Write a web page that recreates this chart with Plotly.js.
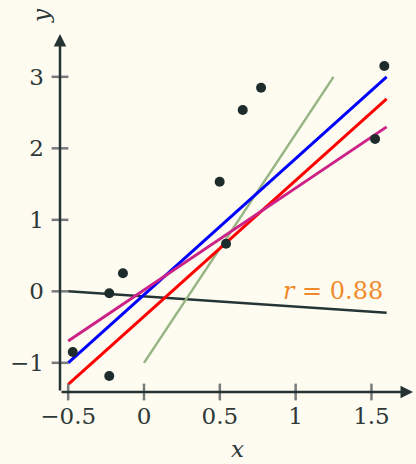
<!DOCTYPE html>
<html>
<head>
<meta charset="utf-8">
<script src="https://cdn.plot.ly/plotly-3.0.1.min.js"></script>
<style>html,body{margin:0;padding:0;background:#fefcf0;}#chart{width:416px;height:464px;}</style>
</head>
<body>
<div id="chart"></div>
<script>
// Data
const pointsX = [-0.47, -0.229, -0.229, -0.139, 0.499, 0.541, 0.651, 0.772, 1.524, 1.585];
const pointsY = [-0.849, -0.028, -1.184, 0.252, 1.533, 0.666, 2.536, 2.848, 2.130, 3.151];

const blueX = [-0.5, 1.6],  blueY = [-1.0, 3.0];
const redX = [-0.5, 1.6],   redY = [-1.30, 2.69];
const magentaX = [-0.5, 1.6], magentaY = [-0.695, 2.30];
const greenX = [0, 1.25],   greenY = [-1.0, 3.0];
const darkX = [-0.5, 1.6],  darkY = [0.0, -0.30];

const xTicks = [-0.5, 0, 0.5, 1, 1.5];
const xTickText = ['\u22120.5', '0', '0.5', '1', '1.5'];
const yTicks = [-1, 0, 1, 2, 3];
const yTickText = ['\u22121', '0', '1', '2', '3'];

const rLabel = '<i>r</i> = 0.88';

const X_RANGE = [-0.554, 1.774];
const Y_RANGE = [-1.408, 3.599];

const axisColor = '#253333';
const FAMILY = 'DejaVu Serif';
const font = {family: FAMILY, size: 23, color: '#2e3838'};

function line(x, y, color, w) {
  return {x: x, y: y, type: 'scatter', mode: 'lines', line: {color: color, width: w}, hoverinfo: 'skip'};
}

const traces = [
  line(darkX, darkY, '#253535', 2.5),
  line(greenX, greenY, '#96b583', 2.5),
  line(redX, redY, '#ff0000', 3),
  line(blueX, blueY, '#0000ff', 3),
  line(magentaX, magentaY, '#cc2288', 3),
  {x: pointsX, y: pointsY, type: 'scatter', mode: 'markers',
   marker: {color: '#1f2c2c', size: 10}},
  // tick marks crossing the axes
  {x: xTicks, y: xTicks.map(() => Y_RANGE[0]), type: 'scatter', mode: 'markers', cliponaxis: false,
   marker: {symbol: 'line-ns', size: 12, line: {color: '#767b7b', width: 2.5}}},
  {x: yTicks.map(() => X_RANGE[0]), y: yTicks, type: 'scatter', mode: 'markers', cliponaxis: false,
   marker: {symbol: 'line-ew', size: 12, line: {color: '#767b7b', width: 2.5}}}
];

const layout = {
  width: 416, height: 464,
  margin: {l: 60, r: 3, t: 34, b: 72},
  paper_bgcolor: '#fefcf0', plot_bgcolor: '#fefcf0',
  showlegend: false,
  font: font,
  xaxis: {range: X_RANGE, showgrid: false, zeroline: false, showline: false,
          tickmode: 'array', tickvals: xTicks, ticktext: xTickText, ticks: '',
          ticklabelstandoff: 8, tickfont: font},
  yaxis: {range: Y_RANGE, showgrid: false, zeroline: false, showline: false,
          tickmode: 'array', tickvals: yTicks, ticktext: yTickText, ticks: '',
          ticklabelstandoff: 15, tickfont: font},
  annotations: [
    {xref: 'paper', yref: 'paper', x: 1, y: 0, ax: -353, ay: 0, text: '', showarrow: true,
     arrowhead: 2, arrowsize: 1, arrowwidth: 2.5, arrowcolor: axisColor, standoff: 0},
    {xref: 'paper', yref: 'paper', x: 0, y: 1, ax: 0, ay: 358, text: '', showarrow: true,
     arrowhead: 2, arrowsize: 1, arrowwidth: 2.5, arrowcolor: axisColor, standoff: 0},
    {xref: 'x', yref: 'y', x: 1.59, y: 0.0, xanchor: 'right', yanchor: 'middle', text: rLabel,
     showarrow: false, font: {family: FAMILY, size: 24, color: '#f08a2c'}},
    {xref: 'paper', yref: 'paper', x: 0.503, y: -0.16, xanchor: 'center', yanchor: 'middle',
     text: '<i>x</i>', showarrow: false, font: font},
    {xref: 'paper', yref: 'paper', x: -0.054, y: 1.053, xanchor: 'center', yanchor: 'middle',
     text: '<i>y</i>', textangle: -90, showarrow: false, font: font}
  ]
};

Plotly.newPlot('chart', traces, layout, {displayModeBar: false, staticPlot: true});
</script>
</body>
</html>
